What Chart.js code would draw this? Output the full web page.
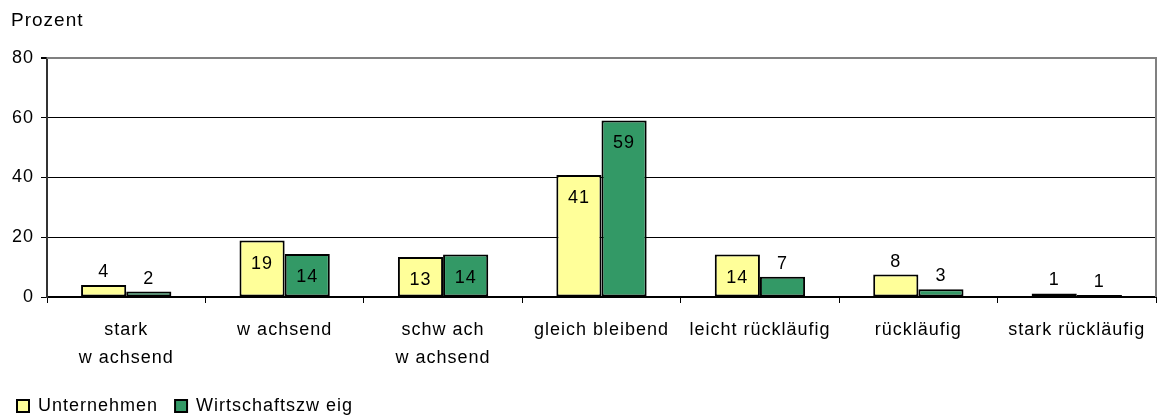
<!DOCTYPE html>
<html>
<head>
<meta charset="utf-8">
<script src="https://cdn.jsdelivr.net/npm/chart.js@4.4.1/dist/chart.umd.min.js"></script>
<style>
  html, body { margin: 0; padding: 0; background: #fff; }
  #wrap { width: 1159px; height: 419px; position: relative; }
</style>
</head>
<body>
<div id="wrap"><canvas id="chart"></canvas></div>
<script>
// Kategorien und Werte
const categories = [
    ['stark', 'w achsend'],
    'w achsend',
    ['schw ach', 'w achsend'],
    'gleich bleibend',
    'leicht rückläufig',
    'rückläufig',
    'stark rückläufig'
];
const unternehmen = [4.0, 18.9, 13.4, 40.8, 14.2, 7.5, 1.2];
const wirtschaftszweig = [1.8, 14.4, 14.2, 59.1, 6.8, 2.6, 0.7];
const yTicks = [0, 20, 40, 60, 80];

const FONT = "'Liberation Sans', Arial, sans-serif";

// etwas breitere Schrift wie im Original
const spacing = {
    id: 'spacing',
    beforeUpdate(chart) { chart.ctx.letterSpacing = '1px'; },
    beforeLayout(chart) { chart.ctx.letterSpacing = '1px'; },
    beforeDraw(chart) { chart.ctx.letterSpacing = '1px'; }
};

// Werte an die Säulen schreiben (innen bei hohen Säulen, sonst darüber)
const valueLabels = {
    id: 'valueLabels',
    afterDatasetsDraw(chart) {
        const ctx = chart.ctx;
        ctx.save();
        ctx.font = '18px ' + FONT;
        ctx.fillStyle = '#000';
        ctx.textAlign = 'center';
        ctx.textBaseline = 'middle';
        chart.data.datasets.forEach((ds, i) => {
            chart.getDatasetMeta(i).data.forEach((bar, j) => {
                const v = ds.data[j];
                const y = v >= 10 ? bar.y + 23 : bar.y - 13;
                ctx.fillText(String(Math.round(v)), bar.x, y);
            });
        });
        ctx.restore();
    }
};

// grauer Rahmen oben und rechts, Achsentitel
const plotBorder = {
    id: 'plotBorder',
    beforeDatasetsDraw(chart) {
        const a = chart.chartArea;
        const ctx = chart.ctx;
        ctx.save();
        ctx.strokeStyle = '#808080';
        ctx.lineWidth = 2;
        ctx.beginPath();
        ctx.moveTo(a.left, a.top);
        ctx.lineTo(a.right, a.top);
        ctx.lineTo(a.right, a.bottom);
        ctx.stroke();
        ctx.restore();
    },
    afterDraw(chart) {
        const ctx = chart.ctx;
        ctx.save();
        ctx.font = '19px ' + FONT;
        ctx.fillStyle = '#000';
        ctx.textBaseline = 'middle';
        ctx.fillText('Prozent', 11, 21);
        ctx.restore();
    }
};

new Chart(document.getElementById('chart'), {
    type: 'bar',
    data: {
        labels: categories,
        datasets: [
            {
                label: 'Unternehmen',
                data: unternehmen,
                backgroundColor: '#FFFF99',
                borderColor: '#000',
                borderWidth: 2,
                borderSkipped: false
            },
            {
                label: 'Wirtschaftszw eig',
                data: wirtschaftszweig,
                backgroundColor: '#339966',
                borderColor: '#000',
                borderWidth: 2,
                borderSkipped: false
            }
        ]
    },
    options: {
        responsive: true,
        maintainAspectRatio: false,
        animation: false,
        datasets: {
            bar: { categoryPercentage: 0.57, barPercentage: 1.0 }
        },
        layout: { padding: { left: 0, top: 58, right: 3, bottom: -6 } },
        plugins: {
            legend: {
                display: true,
                position: 'bottom',
                align: 'start',
                labels: {
                    font: { family: FONT, size: 18 },
                    color: '#000',
                    boxWidth: 12,
                    boxHeight: 12,
                    padding: 17,
                    useBorderRadius: false
                }
            },
            tooltip: { enabled: false }
        },
        scales: {
            x: {
                grid: {
                    offset: true,
                    drawOnChartArea: false,
                    drawTicks: true,
                    tickLength: 6,
                    color: '#000'
                },
                border: { color: '#000', width: 2 },
                ticks: {
                    maxRotation: 0,
                    autoSkip: false,
                    color: '#000',
                    padding: 13,
                    font: { family: FONT, size: 18, lineHeight: 1.55 }
                },
                afterFit(scale) { scale.height = 83; }
            },
            y: {
                min: 0,
                max: 80,
                afterBuildTicks(scale) {
                    scale.ticks = yTicks.map(v => ({ value: v }));
                },
                grid: {
                    color: ctx => (ctx.tick && ctx.tick.value === 80) ? '#808080' : '#000',
                    lineWidth: ctx => (ctx.tick && ctx.tick.value === 80) ? 2 : 1,
                    tickLength: 6,
                    tickColor: '#000'
                },
                border: { color: '#333', width: 2 },
                ticks: {
                    color: '#000',
                    padding: 7,
                    font: { family: FONT, size: 18 }
                },
                afterFit(scale) { scale.width = 47; }
            }
        }
    },
    plugins: [spacing, valueLabels, plotBorder]
});
</script>
</body>
</html>
